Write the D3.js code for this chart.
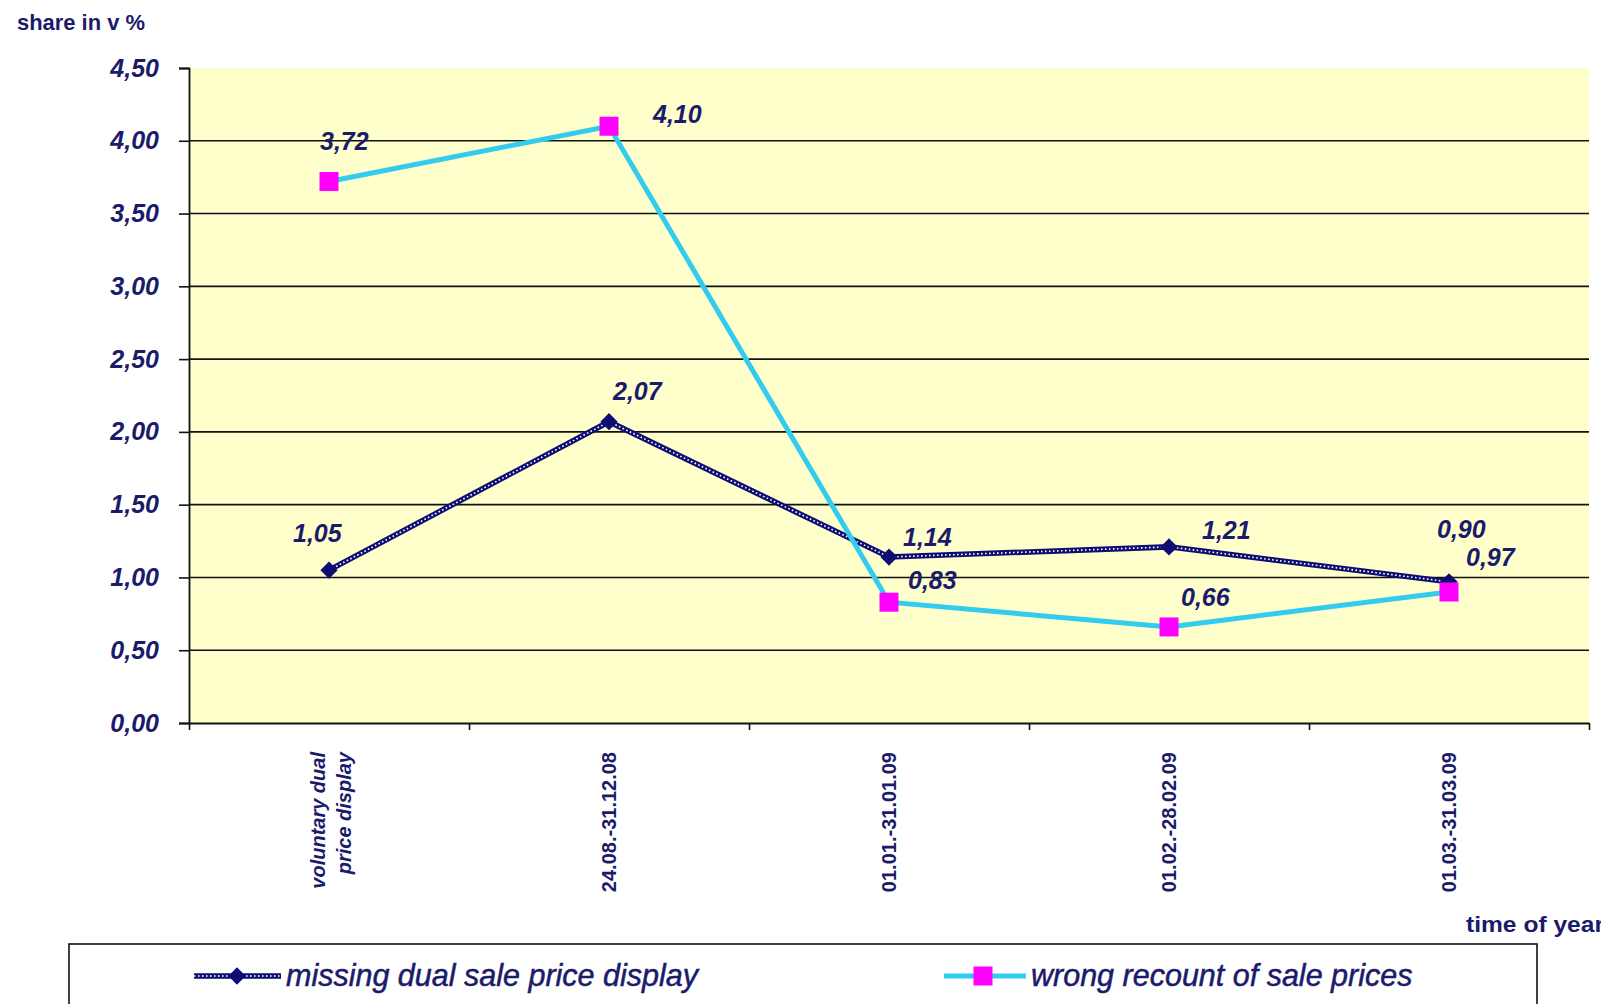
<!DOCTYPE html>
<html>
<head>
<meta charset="utf-8">
<script src="https://cdn.jsdelivr.net/npm/d3@7"></script>
<style>
  html, body { margin: 0; padding: 0; background: #ffffff; }
  svg { display: block; font-family: "Liberation Sans", Arial, sans-serif; }
</style>
</head>
<body>
<svg id="chart" width="1601" height="1004"></svg>
<script>
// Periods of the survey (x axis categories)
const categories = [
  ["voluntary dual", "price display"],
  ["24.08.-31.12.08"],
  ["01.01.-31.01.09"],
  ["01.02.-28.02.09"],
  ["01.03.-31.03.09"]
];

// Series values, share in %
const missingDual = [1.05, 2.07, 1.14, 1.21, 0.97];
const wrongRecount = [3.72, 4.10, 0.83, 0.66, 0.90];

// Series names
const seriesNames = ["missing dual sale price display", "wrong recount of sale prices"];

// Y axis ticks
const yTicks = [0, 0.5, 1, 1.5, 2, 2.5, 3, 3.5, 4, 4.5];

const NAVY = "#1b1b6b";
const CYAN = "#33ccee";
const MAGENTA = "#ff00ff";
const DIAMOND = "#0d0d73";

const svg = d3.select("#chart");
const plot = { left: 189, right: 1589, top: 68, bottom: 723 };

const x = d3.scaleBand()
  .domain(d3.range(categories.length))
  .range([plot.left, plot.right]);
const y = d3.scaleLinear().domain([0, 4.5]).range([plot.bottom, plot.top]);
const cx = i => x(i) + x.bandwidth() / 2;
const fmt = v => d3.format(".2f")(v).replace(".", ",");

// plot background
svg.append("rect")
  .attr("x", plot.left).attr("y", plot.top)
  .attr("width", plot.right - plot.left).attr("height", plot.bottom - plot.top)
  .attr("fill", "#ffffcc");

// horizontal gridlines
svg.append("g")
  .selectAll("line")
  .data(yTicks.filter(t => t > 0 && t < 4.5))
  .join("line")
  .attr("x1", plot.left).attr("x2", plot.right)
  .attr("y1", d => y(d)).attr("y2", d => y(d))
  .attr("stroke", "#111").attr("stroke-width", 1.6);

// y axis
const yAxis = svg.append("g")
  .attr("transform", `translate(${plot.left},0)`)
  .call(d3.axisLeft(y).tickValues(yTicks).tickFormat(fmt).tickSize(10).tickPadding(20));
yAxis.select(".domain").attr("stroke", "#111").attr("stroke-width", 1.8);
yAxis.selectAll(".tick line").attr("stroke", "#111").attr("stroke-width", 1.6);
yAxis.selectAll(".tick text")
  .attr("fill", NAVY)
  .attr("font-size", 25)
  .attr("font-weight", "bold")
  .attr("font-style", "italic")
  .attr("font-family", "'Liberation Sans', Arial, sans-serif");

// x axis
const xEdges = d3.scaleLinear().domain([0, categories.length]).range([plot.left, plot.right]);
const xAxis = svg.append("g")
  .attr("transform", `translate(0,${plot.bottom})`)
  .call(d3.axisBottom(xEdges).tickValues(d3.range(categories.length + 1)).tickFormat("").tickSize(7).tickSizeOuter(0));
xAxis.select(".domain").attr("stroke", "#111").attr("stroke-width", 1.8);
xAxis.selectAll(".tick line").attr("stroke", "#111").attr("stroke-width", 1.6);

// category labels, rotated
const catLabels = svg.append("g")
  .selectAll("text")
  .data(categories)
  .join("text")
  .attr("transform", (d, i) => `translate(${cx(i)},752) rotate(-90)`)
  .attr("text-anchor", "end")
  .attr("fill", NAVY)
  .attr("font-size", 20)
  .attr("font-weight", "bold")
  .attr("font-style", d => d.length > 1 ? "italic" : "normal");
catLabels.each(function (d) {
  const t = d3.select(this);
  const offs = d.length > 1 ? [-11, 15] : [0];
  d.forEach((line, k) => {
    t.append("tspan").attr("x", 0).attr("y", offs[k]).attr("dy", "0.35em").text(line);
  });
});

// series lines
const line = vals => d3.line().x((d, i) => cx(i)).y(d => y(d))(vals);

// missing dual display: chain-like dark line
svg.append("path").attr("d", line(missingDual))
  .attr("fill", "none").attr("stroke", DIAMOND).attr("stroke-width", 5.5);
svg.append("path").attr("d", line(missingDual))
  .attr("fill", "none").attr("stroke", "#ffffff").attr("stroke-width", 1.6)
  .attr("stroke-dasharray", "1.6,2.4");

const diamond = d3.symbol().type(d3.symbolDiamond2).size(190);
svg.append("g").selectAll("path")
  .data(missingDual)
  .join("path")
  .attr("d", diamond)
  .attr("transform", (d, i) => `translate(${cx(i)},${y(d)})`)
  .attr("fill", DIAMOND);

// wrong recount: cyan line with magenta squares
svg.append("path").attr("d", line(wrongRecount))
  .attr("fill", "none").attr("stroke", CYAN).attr("stroke-width", 5);
svg.append("g").selectAll("rect")
  .data(wrongRecount)
  .join("rect")
  .attr("x", (d, i) => cx(i) - 9.5).attr("y", d => y(d) - 9.5)
  .attr("width", 19).attr("height", 19)
  .attr("fill", MAGENTA);

// value labels
const labelOffsets = [
  [[-36, -28], [4, -22], [14, -11], [33, -8], [17, -16]],
  [[-9, -32], [44, -3], [19, -13], [12, -21], [-12, -54]]
];
[missingDual, wrongRecount].forEach((vals, s) => {
  svg.append("g").selectAll("text")
    .data(vals)
    .join("text")
    .attr("x", (d, i) => cx(i) + labelOffsets[s][i][0])
    .attr("y", (d, i) => y(d) + labelOffsets[s][i][1])
    .attr("fill", NAVY)
    .attr("font-size", 25)
    .attr("font-weight", "bold")
    .attr("font-style", "italic")
    .text(fmt);
});

// axis titles
svg.append("text")
  .attr("x", 17).attr("y", 30)
  .attr("fill", NAVY).attr("font-size", 22).attr("font-weight", "bold")
  .attr("textLength", 128).attr("lengthAdjust", "spacingAndGlyphs")
  .text("share in v %");
svg.append("text")
  .attr("x", 1466).attr("y", 932)
  .attr("fill", NAVY).attr("font-size", 22).attr("font-weight", "bold")
  .attr("textLength", 138).attr("lengthAdjust", "spacingAndGlyphs")
  .text("time of year");

// legend
const legend = svg.append("g");
legend.append("rect")
  .attr("x", 69).attr("y", 944).attr("width", 1468).attr("height", 120)
  .attr("fill", "#ffffff").attr("stroke", "#111").attr("stroke-width", 1.6);

const ly = 976;
// entry 1
legend.append("line").attr("x1", 194).attr("x2", 281).attr("y1", ly).attr("y2", ly)
  .attr("stroke", DIAMOND).attr("stroke-width", 5.5);
legend.append("line").attr("x1", 194).attr("x2", 281).attr("y1", ly).attr("y2", ly)
  .attr("stroke", "#fff").attr("stroke-width", 1.6).attr("stroke-dasharray", "1.6,2.4");
legend.append("path").attr("d", diamond)
  .attr("transform", `translate(237,${ly})`).attr("fill", DIAMOND);
legend.append("text").attr("x", 286).attr("y", ly + 10)
  .attr("fill", NAVY).attr("font-size", 30.5).attr("font-style", "italic")
  .attr("stroke", NAVY).attr("stroke-width", 0.5)
  .text(seriesNames[0]);
// entry 2
legend.append("line").attr("x1", 944).attr("x2", 1026).attr("y1", ly).attr("y2", ly)
  .attr("stroke", CYAN).attr("stroke-width", 5);
legend.append("rect").attr("x", 983 - 9.5).attr("y", ly - 9.5).attr("width", 19).attr("height", 19)
  .attr("fill", MAGENTA);
legend.append("text").attr("x", 1031).attr("y", ly + 10)
  .attr("fill", NAVY).attr("font-size", 30.5).attr("font-style", "italic")
  .attr("stroke", NAVY).attr("stroke-width", 0.5)
  .text(seriesNames[1]);
</script>
</body>
</html>
